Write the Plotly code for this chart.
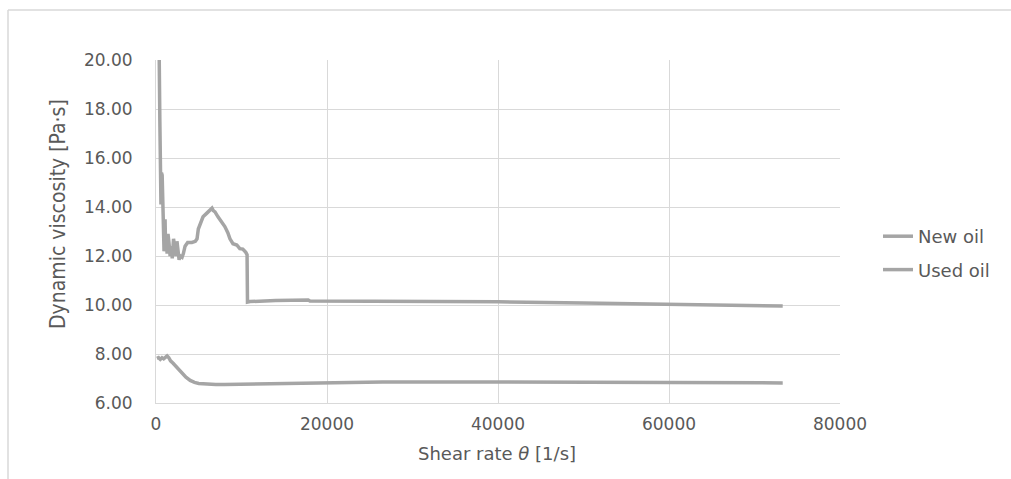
import plotly.graph_objects as go

# Shear rate [1/s] and dynamic viscosity [Pa·s] for the fresh oil sample
new_oil_rate = [150, 350, 450, 520, 580, 640, 720, 800, 880, 940, 1000, 1060, 1120,
                1200, 1300, 1400, 1500, 1650, 1800, 1900, 2050, 2200, 2350, 2450,
                2550, 2700, 2850, 3050, 3200, 3400, 3700, 4200, 4600, 4800, 4950,
                5250, 5500, 5950, 6300, 6550, 6700, 6900, 7250, 7700, 8050, 8400,
                8650, 9000, 9450, 9800, 10150, 10500, 10650, 10700, 11000, 14000,
                17800, 18000, 30000, 40000, 50000, 60000, 73300]
new_oil_visc = [24.0, 21.0, 17.5, 14.3, 14.1, 15.4, 15.3, 14.2, 13.0, 12.2, 12.3, 13.5,
                12.4, 12.8, 12.1, 12.9, 12.6, 12.0, 12.4, 11.9, 12.7, 12.2, 12.0, 12.6,
                12.1, 11.85, 12.0, 11.95, 12.1, 12.4, 12.55, 12.55, 12.6, 12.7, 13.1,
                13.4, 13.6, 13.75, 13.88, 13.95, 13.85, 13.8, 13.6, 13.4, 13.2, 12.95,
                12.7, 12.5, 12.45, 12.3, 12.28, 12.15, 12.05, 10.12, 10.14, 10.18,
                10.2, 10.16, 10.15, 10.13, 10.08, 10.02, 9.96]

# Shear rate [1/s] and dynamic viscosity [Pa·s] for the used oil sample
used_oil_rate = [100, 300, 500, 700, 900, 1100, 1300, 1500, 1700, 2000, 2300, 2700,
                 3100, 3500, 4000, 4500, 5000, 6000, 7000, 8000, 10000, 15000, 20000,
                 26000, 26500, 30000, 40000, 50000, 60000, 73300]
used_oil_visc = [7.82, 7.85, 7.78, 7.85, 7.80, 7.88, 7.92, 7.85, 7.72, 7.62, 7.50, 7.35,
                 7.20, 7.05, 6.92, 6.84, 6.80, 6.77, 6.76, 6.76, 6.77, 6.80, 6.84,
                 6.88, 6.86, 6.86, 6.86, 6.85, 6.84, 6.82]

series_names = ["New oil", "Used oil"]
x_ticks = [0, 20000, 40000, 60000, 80000]
y_ticks = [6, 8, 10, 12, 14, 16, 18, 20]

W, H = 1011, 479
L, R, T, B = 156, 840, 60, 403          # plot area in pixels
LINE = "#a5a5a5"
GRID = "#d9d9d9"
TXT = "#595959"
FONT = "DejaVu Sans"
NARROW = "Liberation Sans Narrow, DejaVu Sans Condensed, Roboto"


def px(x):
    return (x - L) / (R - L)


def py(y):
    return (B - y) / (B - T)


fig = go.Figure()
fig.add_trace(go.Scatter(x=new_oil_rate, y=new_oil_visc, mode="lines",
                         name=series_names[0], legendgroup="a",
                         line=dict(color=LINE, width=3.5)))
fig.add_trace(go.Scatter(x=used_oil_rate, y=used_oil_visc, mode="lines",
                         name=series_names[1], legendgroup="b",
                         line=dict(color=LINE, width=3.5)))

axis_common = dict(showgrid=True, gridcolor=GRID, gridwidth=1, showline=True,
                   linecolor=GRID, linewidth=1, zeroline=False, ticks="",
                   tickfont=dict(family=FONT, size=17, color=TXT), fixedrange=True)

fig.update_xaxes(range=[0, 80000], tickvals=x_ticks, ticktext=[str(v) for v in x_ticks],
                 ticklabelstandoff=6, **axis_common)
fig.update_yaxes(range=[6, 20], tickvals=y_ticks, ticktext=[f"{v:.2f}" for v in y_ticks],
                 ticklabelstandoff=19, **axis_common)

# Chart frame (top and left edges)
frame = dict(color=GRID, width=1.5)
fig.add_shape(type="line", xref="paper", yref="paper", x0=px(8), x1=px(W + 5),
              y0=py(10), y1=py(10), line=frame)
fig.add_shape(type="line", xref="paper", yref="paper", x0=px(8), x1=px(8),
              y0=py(10), y1=py(H + 5), line=frame)

fig.add_annotation(text="Dynamic viscosity [Pa·s]", textangle=-90, showarrow=False,
                   xref="paper", yref="paper", x=px(58), y=py(214),
                   xanchor="center", yanchor="middle",
                   font=dict(family=NARROW, size=21, color=TXT))
fig.add_annotation(text="Shear rate <i>θ</i> [1/s]", showarrow=False,
                   xref="paper", yref="paper", x=px(497), y=py(454),
                   xanchor="center", yanchor="middle",
                   font=dict(family=FONT, size=18, color=TXT))

fig.update_layout(
    width=W, height=H,
    margin=dict(l=L, r=W - R, t=T, b=H - B, pad=0),
    paper_bgcolor="white", plot_bgcolor="white",
    showlegend=True,
    legend=dict(x=px(878), y=py(218), xanchor="left", yanchor="top",
                font=dict(family=FONT, size=18, color=TXT),
                tracegroupgap=7, bgcolor="rgba(0,0,0,0)"),
)

fig.write_html("out.html")
